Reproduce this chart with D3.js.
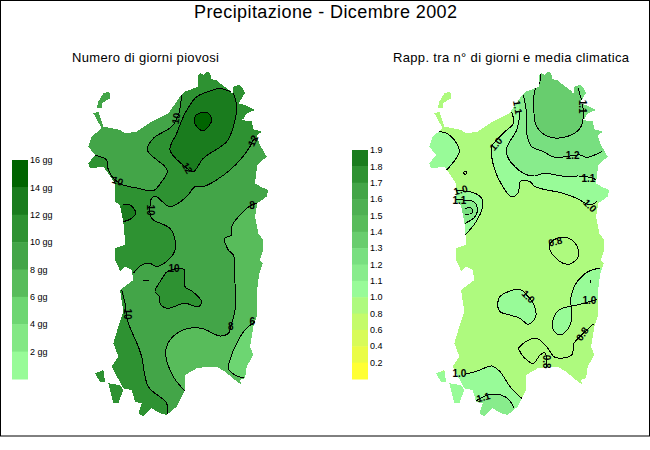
<!DOCTYPE html>
<html>
<head>
<meta charset="utf-8">
<script src="https://cdn.jsdelivr.net/npm/d3@7"></script>
<style>
  body { margin: 0; background: #fff; }
  text { font-family: "Liberation Sans", Arial, sans-serif; fill: #000; }
</style>
</head>
<body>
<svg id="chart" width="650" height="450"></svg>
<script>
// Map units: 3 units per pixel from the sheet corner of each map
const coast = [[385,15],[392,10],[400,15],[410,5],[420,8],[425,28],[440,30],[450,40],[470,55],[480,62],[487,72],[490,50],[508,44],[520,58],[525,68],[515,85],[505,100],[525,105],[540,112],[555,120],[530,130],[520,148],[505,150],[545,153],[550,178],[575,185],[560,197],[570,225],[590,260],[562,285],[555,340],[575,352],[595,360],[590,380],[562,400],[555,440],[565,490],[580,510],[580,540],[570,570],[578,580],[568,610],[560,670],[560,740],[550,770],[540,830],[550,855],[530,890],[525,925],[510,930],[515,945],[495,930],[465,905],[440,890],[410,890],[380,895],[345,915],[345,960],[320,1010],[290,1035],[270,1030],[245,1015],[220,1040],[205,1030],[215,1000],[195,995],[185,960],[160,955],[125,890],[145,860],[130,820],[145,770],[160,725],[150,660],[190,630],[185,600],[165,590],[150,605],[145,590],[135,570],[135,535],[165,525],[165,510],[160,455],[150,405],[135,395],[135,340],[115,310],[100,290],[60,295],[55,280],[75,255],[55,230],[65,200],[95,175],[70,130],[85,125],[100,170],[150,180],[165,190],[200,185],[245,155],[295,130],[330,80],[345,65],[385,50]];
const asinara = [[118,65],[100,70],[85,95],[80,115],[95,115],[95,100],[120,85]];
const sanPietro = [[75,910],[100,900],[105,935],[90,935]];
const santAntioco = [[115,940],[150,945],[160,960],[145,1000],[130,1000]];
const landParts = [coast, asinara, sanPietro, santAntioco];

// Rainy days: isolines
const days10West = [[50,245],[75,255],[110,270],[115,300],[135,330],[160,345],[205,355],[250,362],[275,335],[292,305],[285,290],[232,240],[250,205],[305,170],[325,135],[335,75]];
const days10East = [[560,205],[548,212],[540,230],[480,300],[400,350],[375,350],[350,380],[300,410],[258,380],[245,385],[240,410],[245,445],[300,475],[315,510],[315,540],[300,565],[260,590],[240,580],[215,585],[190,610]];
const days10South = [[155,660],[165,700],[172,750],[205,830],[215,860],[235,950],[290,1000],[290,1040]];
const days10Centre = [[290,605],[270,635],[255,665],[268,680],[270,700],[290,715],[345,700],[385,710],[395,695],[368,665],[345,650],[343,600],[325,595],[290,605]];
const days12Main = [[490,70],[500,110],[490,170],[470,215],[400,265],[370,305],[345,290],[300,240],[320,190],[345,130],[380,80],[415,65],[450,55],[490,70]];
const days12West = [[160,405],[180,405],[197,428],[185,445],[160,455]];
const days14Core = [[378,135],[395,127],[415,130],[425,150],[415,170],[400,182],[380,170],[373,150],[378,135]];
const days8East = [[565,400],[545,405],[510,435],[485,470],[485,495],[465,505],[475,540],[490,555],[495,640],[495,720],[485,760],[475,790],[450,798],[395,775],[345,778],[300,810],[287,850],[310,920],[350,968]];
const days6East = [[555,755],[525,780],[495,830],[480,870],[475,895],[495,915],[525,925]];
const daysStray = [[218,632],[238,632]];

// Rainy days: filled bands, level is a value inside the band
const dayRegions = [
  { level: 11, ring: [...days10West, [340,50],[345,0],[610,0],[610,120], ...days10East, [100,610],[30,500],[30,245]] },
  { level: 11, ring: [...days10South, [100,1060],[50,900],[60,660]] },
  { level: 11, ring: days10Centre },
  { level: 13, ring: days12Main },
  { level: 13, ring: [...days12West, [120,430]] },
  { level: 15, ring: days14Core },
  { level: 7, ring: [[610,395], ...days8East, [370,1010],[610,1010]] },
  { level: 5, ring: [...days6East, [610,940],[610,755]] }
];
const dayLines = [days10West, days10East, days10South, days10Centre, days12Main, days12West, days14Core, days8East, days6East, daysStray];
const dayLabels = [
  { text: '10', x: 318, y: 145, angle: -80 }, { text: '10', x: 143, y: 333, angle: 20 },
  { text: '12', x: 352, y: 294, angle: 60 }, { text: '12', x: 549, y: 212, angle: -65 },
  { text: '8', x: 546, y: 405, angle: 0 }, { text: '10', x: 242, y: 420, angle: 90 },
  { text: '10', x: 312, y: 595, angle: 0 }, { text: '10', x: 172, y: 732, angle: 90 },
  { text: '8', x: 482, y: 770, angle: 0 }, { text: '6', x: 547, y: 755, angle: 0 }
];

// Ratio to climate mean: isolines
const ratio10North = [[275,125],[280,160],[255,185],[215,230],[215,260],[235,325],[275,380],[295,368],[300,335],[330,335],[345,350],[430,370],[470,385],[510,405],[530,395]];
const ratio11North = [[300,125],[297,150],[290,180],[260,235],[265,265],[310,310],[345,318],[370,310],[440,320],[475,318],[520,325],[545,345]];
const ratio12North = [[310,75],[320,130],[322,200],[335,230],[370,245],[405,262],[480,255],[500,262],[545,245]];
const ratio13North = [[360,12],[360,35],[345,60],[342,130],[350,170],[385,200],[440,200],[480,175],[490,140],[487,100],[480,75],[475,55]];
const ratio10West = [[50,185],[80,190],[110,220],[118,245],[105,270],[80,300]];
const ratio10Dot = [[130,308],[135,303],[140,308],[135,313],[130,308]];
const ratio10Bay = [[105,362],[160,368],[185,385],[188,410],[165,460],[135,495]];
const ratio11Bay = [[105,390],[130,390],[160,395],[172,412],[165,440],[135,460]];
const ratio12Bay = [[135,415],[155,415],[155,430],[135,432]];
const ratio08Centre = [[388,525],[392,545],[425,578],[450,582],[475,560],[475,540],[462,515],[440,503],[410,505],[392,518],[388,525]];
const ratio10EastUp = [[540,595],[510,602],[475,630],[457,665],[453,705],[490,700],[530,688]];
const ratio10EastLow = [[453,708],[415,722],[398,755],[400,780],[420,795],[445,775],[455,750],[453,708]];
const ratio10Centre = [[232,705],[240,680],[265,665],[300,658],[320,675],[340,700],[347,740],[325,763],[300,745],[270,735],[240,725],[232,705]];
const ratio08South = [[295,835],[320,813],[350,805],[380,830],[405,862],[455,855],[462,820],[485,795],[520,762]];
const ratio08Lobe = [[295,835],[310,860],[340,880],[360,855],[375,848],[380,895]];
const ratio10South = [[135,913],[175,902],[215,888],[240,905],[270,950],[305,985]];
const ratio11South = [[165,995],[190,980],[225,972],[255,980],[275,1000],[282,1015]];
const ratioStray = [[512,630],[512,640]];

// Ratio: filled bands
const ratioRegions = [
  { level: 1.05, ring: [[270,105], ...ratio10North, [610,400],[610,0],[300,0]] },
  { level: 1.15, ring: [[295,100], ...ratio11North, [610,345],[610,0],[320,0]] },
  { level: 1.25, ring: [[305,60], ...ratio12North, [610,245],[610,0],[330,0]] },
  { level: 1.35, ring: [...ratio13North, [475,0],[360,0]] },
  { level: 1.05, ring: [...ratio10West, [-15,300],[-15,185]] },
  { level: 1.05, ring: [...ratio10Bay, [60,495],[60,362]] },
  { level: 1.15, ring: [...ratio11Bay, [60,460],[60,390]] },
  { level: 1.25, ring: [...ratio12Bay, [90,432],[90,415]] },
  { level: 0.9, ring: ratio08Centre },
  { level: 1.05, ring: [...ratio10EastUp, [610,688],[610,595]] },
  { level: 1.05, ring: ratio10EastLow },
  { level: 1.05, ring: ratio10Centre },
  { level: 0.9, ring: [...ratio08South, [610,762],[610,950], [380,950], ...ratio08Lobe.slice().reverse()] },
  { level: 1.05, ring: [[30,915], ...ratio10South, [330,1010],[330,1070],[30,1070]] },
  { level: 1.15, ring: [...ratio11South, [290,1070],[150,1070]] }
];
const ratioLines = [ratio10North, ratio11North, ratio12North, ratio13North, ratio10West, ratio10Dot, ratio10Bay, ratio11Bay, ratio12Bay, ratio08Centre, ratio10EastUp, ratio10EastLow, ratio10Centre, ratio08South, ratio08Lobe, ratio10South, ratio11South, ratioStray];
const ratioLabels = [
  { text: '1.0', x: 228, y: 222, angle: -50 }, { text: '1.2', x: 458, y: 255, angle: 0 },
  { text: '1.1', x: 505, y: 326, angle: 0 }, { text: '1.0', x: 510, y: 407, angle: 45 },
  { text: '1.1', x: 293, y: 112, angle: 80 }, { text: '1.1', x: 488, y: 110, angle: 90 },
  { text: '1.0', x: 122, y: 360, angle: -15 }, { text: '1.1', x: 118, y: 390, angle: 0 },
  { text: '0.8', x: 406, y: 515, angle: -15 }, { text: '1.0', x: 325, y: 680, angle: 45 },
  { text: '1.0', x: 508, y: 692, angle: 0 }, { text: '0.8', x: 487, y: 792, angle: -55 },
  { text: '0.8', x: 380, y: 875, angle: 90 }, { text: '1.0', x: 118, y: 910, angle: 0 },
  { text: '1.1', x: 190, y: 982, angle: -15 }
];

// Legends
const dayTicks = ['16 gg', '14 gg', '12 gg', '10 gg', '8 gg', '6 gg', '4 gg', '2 gg'];
const dayBreaks = [2, 4, 6, 8, 10, 12, 14];
const dayColors = ['#98fb98', '#83e885', '#6dd672', '#58bc5b', '#43a548', '#2e9232', '#1a7c1e', '#006400'];
const ratioTicks = ['1.9', '1.8', '1.7', '1.6', '1.5', '1.4', '1.3', '1.2', '1.1', '1.0', '0.8', '0.6', '0.4', '0.2'];
const ratioBreaks = [0.2, 0.4, 0.6, 0.8, 1.0, 1.1, 1.2, 1.3, 1.4, 1.5, 1.6, 1.7, 1.8];
const ratioColors = ['#ffff33', '#eafc45', '#d8fb58', '#c4fb6a', '#aefa7e', '#98fb98', '#88ec8c', '#78df80', '#68cd6e', '#58bc5b', '#4db052', '#43a548', '#2e9232', '#1a7c1e'];

const svg = d3.select('#chart');
const line = d3.line().curve(d3.curveCatmullRom.alpha(0.5));
const closedLine = d3.line().curve(d3.curveCatmullRomClosed.alpha(0.5));
const landLine = d3.line().curve(d3.curveLinearClosed);
const yMap = d3.scaleLinear().domain([0, 1140]).range([70, 450]);

function drawMap(id, landLeft, left, base, color, regions, lines, labels) {
    const xLand = d3.scaleLinear().domain([0, 630]).range([landLeft, landLeft + 210]);
    const x = d3.scaleLinear().domain([0, 630]).range([left, left + 210]);
    const project = pts => pts.map(d => [x(d[0]), yMap(d[1])]);
    const land = landParts.map(p => landLine(p.map(d => [xLand(d[0]), yMap(d[1])]))).join('');

    // only the land shows, bands run past the coast and can ring outside this box
    const x0 = landLeft - 10, x1 = landLeft + 225;
    const y0 = Math.round(yMap(-9)), y1 = Math.round(yMap(1080));
    svg.append('clipPath').attr('id', id).append('rect')
        .attr('x', x0).attr('y', y0)
        .attr('width', x1 - x0).attr('height', y1 - y0);

    const g = svg.append('g')
        .attr('clip-path', `url(#${id})`)
        .attr('shape-rendering', 'crispEdges');
    g.append('rect')
        .attr('x', x0).attr('y', y0)
        .attr('width', x1 - x0).attr('height', y1 - y0)
        .attr('fill', color(base));

    g.selectAll('path.band')
        .data(regions)
        .join('path')
        .attr('class', 'band')
        .attr('d', d => closedLine(project(d.ring)))
        .attr('fill', d => color(d.level));

    g.selectAll('path.iso')
        .data(lines)
        .join('path')
        .attr('class', 'iso')
        .attr('d', d => line(project(d)))
        .attr('fill', 'none')
        .attr('stroke', '#000')
        .attr('stroke-width', 1);

    // white sheet with the land cut out, this keeps the coast jagged like the original
    g.append('path')
        .attr('d', `M${x0 - 1},${y0 - 1}H${x1 + 1}V${y1 + 1}H${x0 - 1}Z` + land)
        .attr('fill', '#fff')
        .attr('fill-rule', 'evenodd');

    svg.selectAll(`text.${id}`)
        .data(labels)
        .join('text')
        .attr('class', id)
        .attr('transform', d => `translate(${x(d.x)},${yMap(d.y)}) rotate(${d.angle})`)
        .attr('text-anchor', 'middle')
        .attr('dy', '0.35em')
        .attr('font-size', 10)
        .attr('font-weight', 'bold')
        .text(d => d.text);
}

function drawLegend(left, top, bottom, ticks, colors) {
    // top of the scale comes first, so colours run the other way round
    const band = d3.scaleBand().domain(ticks).range([top, bottom]);
    const colorOf = d3.scaleOrdinal().domain(ticks).range(colors.slice().reverse());
    const g = svg.append('g');

    g.selectAll('rect')
        .data(ticks)
        .join('rect')
        .attr('x', left)
        .attr('y', d => band(d))
        .attr('width', 16)
        .attr('height', band.bandwidth() + 0.5)
        .attr('fill', d => colorOf(d));

    g.selectAll('text')
        .data(ticks)
        .join('text')
        .attr('x', left + 18)
        .attr('y', d => band(d))
        .attr('dy', '0.35em')
        .attr('font-size', 9)
        .text(d => d);
}

const dayColor = d3.scaleThreshold().domain(dayBreaks).range(dayColors);
const ratioColor = d3.scaleThreshold().domain(ratioBreaks).range(ratioColors);

drawMap('days', 70, 70, 9, dayColor, dayRegions, dayLines, dayLabels);
drawMap('ratio', 411, 420, 0.9, ratioColor, ratioRegions, ratioLines, ratioLabels);
drawLegend(12, 160, 379, dayTicks, dayColors);
drawLegend(352, 150, 379, ratioTicks, ratioColors);

svg.append('rect')
    .attr('x', 0.5).attr('y', 0.5)
    .attr('width', 649).attr('height', 435.5)
    .attr('fill', 'none')
    .attr('stroke', '#000');

svg.append('text').attr('x', 194).attr('y', 18)
    .attr('font-size', 18).attr('textLength', 263)
    .text('Precipitazione - Dicembre 2002');
svg.append('text').attr('x', 72).attr('y', 62)
    .attr('font-size', 13).attr('textLength', 147)
    .text('Numero di giorni piovosi');
svg.append('text').attr('x', 393).attr('y', 62)
    .attr('font-size', 13).attr('textLength', 236)
    .text('Rapp. tra n° di giorni e media climatica');
</script>
</body>
</html>
